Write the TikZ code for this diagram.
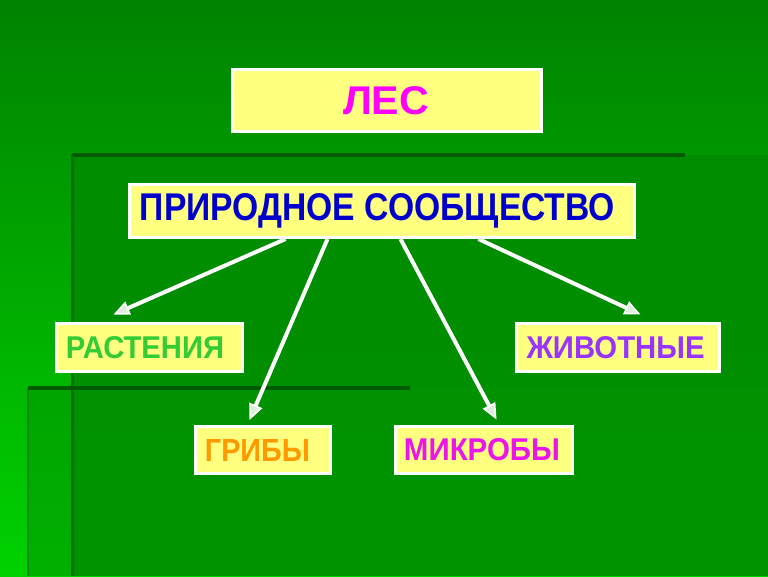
\documentclass[tikz,border=0pt]{standalone}
\usepackage{fontspec}
\usepackage{graphicx}
\setmainfont{Liberation Sans}
\usetikzlibrary{arrows.meta}
\definecolor{bgdark}{RGB}{0,130,0}
\definecolor{bgbright}{RGB}{0,210,0}
\definecolor{panelA}{RGB}{0,140,0}
\definecolor{panelB}{RGB}{0,150,0}
\definecolor{edgedark}{RGB}{0,90,0}
\definecolor{edgemid}{RGB}{0,110,0}
\definecolor{boxyellow}{RGB}{255,255,128}
\definecolor{headfill}{RGB}{220,238,220}
\definecolor{txtblue}{RGB}{0,0,204}
\definecolor{txtmagenta}{RGB}{255,0,255}
\definecolor{txtgreen}{RGB}{51,204,51}
\definecolor{txtpurple}{RGB}{153,51,255}
\definecolor{txtorange}{RGB}{255,153,0}
\definecolor{txtpink}{RGB}{235,20,235}
\newcommand{\fittext}[3]{\resizebox{#1}{#2}{\bfseries #3}}
\tikzset{
  box/.style={draw=white, line width=3pt, fill=boxyellow, inner sep=0pt},
  arr/.style={draw=white, line width=4pt,
    -{Triangle[length=16pt, width=14pt, line width=1.6pt, fill=headfill]}},
}
\begin{document}
\begin{tikzpicture}[x=1pt,y=-1pt]
\useasboundingbox (0,0) rectangle (768,576);
% background
\shade[top color=bgdark, bottom color=bgbright] (0,0) rectangle (768,576);
\fill[panelA, opacity=0.92] (72,155) rectangle (768,576);
\fill[panelB, opacity=0.55] (28,388) rectangle (768,576);
\draw[edgedark, line width=4pt] (72,155) -- (685,155);
\draw[edgemid, line width=3pt] (72,155) -- (72,576);
\draw[edgedark, line width=4pt] (28,388) -- (410,388);
\draw[edgemid, line width=2pt, opacity=0.6] (28,388) -- (28,576);
% nodes
\node[box, minimum width=309pt, minimum height=62pt, text=txtmagenta] (les) at (387,100.5) {\fittext{86pt}{28pt}{ЛЕС}\kern2pt};
\node[box, minimum width=505pt, minimum height=53pt, text=txtblue] (pc) at (382,211) {\raisebox{-1.5pt}{\fittext{475pt}{27pt}{ПРИРОДНОЕ СООБЩЕСТВО}}\kern9pt};
\node[box, minimum width=186pt, minimum height=48pt, text=txtgreen] (plants) at (149.5,347.5) {\fittext{158pt}{22pt}{РАСТЕНИЯ}\kern9pt};
\node[box, minimum width=203pt, minimum height=48pt, text=txtpurple] (animals) at (618,347.5) {\fittext{178pt}{22pt}{ЖИВОТНЫЕ}\kern5pt};
\node[box, minimum width=135pt, minimum height=47pt, text=txtorange] (fungi) at (263,450) {\fittext{105pt}{22pt}{ГРИБЫ}\kern11pt};
\node[box, minimum width=177pt, minimum height=47pt, text=txtpink] (microbes) at (484,450) {\fittext{156pt}{22pt}{МИКРОБЫ}\kern4pt};
% arrows
\draw[arr] ([xshift=157.5pt]pc.south west) -- ([xshift=58.5pt,yshift=7.5pt]plants.north west);
\draw[arr] ([xshift=199.5pt]pc.south west) -- ([xshift=55.5pt,yshift=5pt]fungi.north west);
\draw[arr] ([xshift=272.5pt]pc.south west) -- ([xshift=102.5pt,yshift=5.5pt]microbes.north west);
\draw[arr] ([xshift=350.5pt]pc.south west) -- ([xshift=125.5pt,yshift=7.5pt]animals.north west);
\end{tikzpicture}
\end{document}
